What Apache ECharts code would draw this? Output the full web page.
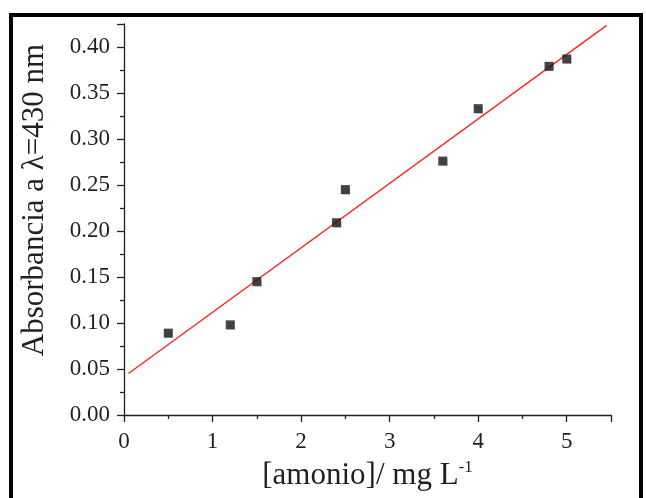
<!DOCTYPE html>
<html>
<head>
<meta charset="utf-8">
<script src="https://cdn.jsdelivr.net/npm/echarts@6/dist/echarts.min.js"></script>
<style>
  html, body { margin: 0; padding: 0; background: #fff; }
  #chart { width: 646px; height: 498px; }
</style>
</head>
<body>
<div id="chart"></div>
<script>
// Calibration data: ammonium concentration (mg/L) vs absorbance at 430 nm
const concentration = [0.5, 1.2, 1.5, 2.4, 2.5, 3.6, 4.0, 4.8, 5.0];
const absorbance    = [0.089, 0.098, 0.145, 0.209, 0.245, 0.276, 0.333, 0.379, 0.387];

// Linear fit line endpoints
const fitX = [0.05, 5.45];
const fitY = [0.0451, 0.4235];

const ink = '#231f20';
const serif = '"Liberation Serif", "DejaVu Serif", serif';

const chart = echarts.init(document.getElementById('chart'), null, { renderer: 'canvas' });

chart.setOption({
  animation: false,
  backgroundColor: '#ffffff',
  grid: { left: 124, right: 35, top: 24, bottom: 83, containLabel: false },
  xAxis: {
    type: 'value',
    min: 0, max: 5.5, interval: 1,
    name: '{a|[amonio]/ mg L}{s|-1}',
    nameLocation: 'middle',
    nameGap: 44,
    nameTextStyle: {
      rich: {
        a: { fontFamily: serif, fontSize: 31, color: ink, lineHeight: 34 },
        s: { fontFamily: serif, fontSize: 17, color: ink, verticalAlign: 'top', lineHeight: 30 }
      }
    },
    axisLine: { show: true, lineStyle: { color: ink, width: 1.3 } },
    axisTick: { show: true, inside: false, length: 7, lineStyle: { color: ink, width: 1.3 } },
    minorTick: { show: true, splitNumber: 2, length: 4, lineStyle: { color: ink, width: 1.3 } },
    axisLabel: {
      margin: 15, fontFamily: serif, fontSize: 23, color: ink,
      formatter: v => (v > 5.01 ? '' : String(v))
    },
    splitLine: { show: false }
  },
  yAxis: {
    type: 'value',
    min: 0, max: 0.425, interval: 0.05,
    axisLine: { show: true, lineStyle: { color: ink, width: 1.3 } },
    axisTick: { show: true, inside: false, length: 7, lineStyle: { color: ink, width: 1.3 } },
    minorTick: { show: true, splitNumber: 2, length: 4, lineStyle: { color: ink, width: 1.3 } },
    axisLabel: {
      margin: 14, fontFamily: serif, fontSize: 23, color: ink,
      formatter: v => (v > 0.401 ? '' : v.toFixed(2))
    },
    splitLine: { show: false }
  },
  graphic: [
    {
      type: 'rect',
      shape: { x: 11, y: 15, width: 630, height: 520 },
      style: { fill: 'none', stroke: '#000', lineWidth: 4 },
      silent: true
    },
    {
      type: 'text',
      x: 35, y: 200,
      rotation: Math.PI / 2,
      style: {
        text: 'Absorbancia a λ=430 nm',
        fontFamily: serif, fontSize: 31, fill: ink,
        align: 'center', verticalAlign: 'middle'
      },
      silent: true
    }
  ],
  series: [
    {
      type: 'line',
      data: fitX.map((x, i) => [x, fitY[i]]),
      showSymbol: false,
      lineStyle: { color: '#ff2020', width: 1.3 },
      z: 2
    },
    {
      type: 'scatter',
      data: concentration.map((x, i) => [x, absorbance[i]]),
      symbol: 'rect',
      symbolSize: 9,
      itemStyle: {
        color: '#1c191a',
        shadowColor: 'rgba(0,0,0,0.2)', shadowBlur: 1, shadowOffsetX: 0.5, shadowOffsetY: 0.5
      },
      z: 3
    }
  ]
});
</script>
</body>
</html>
